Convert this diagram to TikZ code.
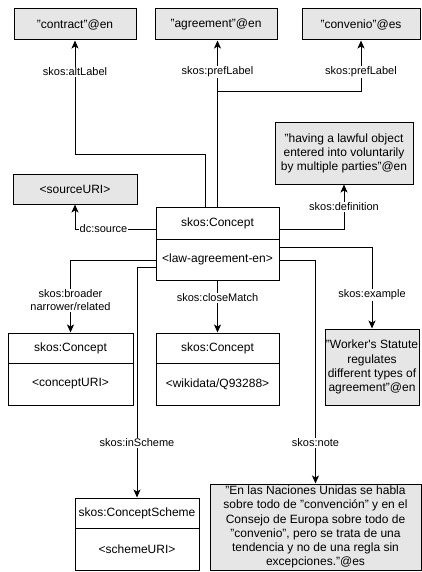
\documentclass[tikz,border=0pt]{standalone}
\usepackage{fontspec}
\setmainfont{Liberation Sans}
\usetikzlibrary{arrows.meta}
\definecolor{boxfill}{HTML}{E6E6E6}
\begin{document}
\begin{tikzpicture}[x=1pt,y=-1pt,
  box/.style={draw=black, line width=1pt, fill=boxfill, inner sep=0pt, align=center, font=\fontsize{12}{14.2}\selectfont},
  cls/.style={draw=black, line width=1pt, fill=white, inner sep=0pt, align=center, font=\fontsize{12}{14}\selectfont},
  lbl/.style={fill=white, inner sep=1pt, align=center, font=\fontsize{11}{13}\selectfont},
  arr/.style={draw=black, line width=1pt, -{Stealth[length=8pt,width=7pt,inset=2pt]}},
]
\useasboundingbox (0,0) rectangle (421,572);
% literal boxes
\node[box, minimum width=122, minimum height=31] (contract) at (75,24.5) {"contract"@en};
\node[box, minimum width=122, minimum height=31] (agree) at (216,24.5) {"agreement"@en};
\node[box, minimum width=118, minimum height=31] (conv) at (361,24.5) {"convenio"@es};
\node[box, minimum width=138, minimum height=61] (def) at (344,153.5) {"having a lawful object\\entered into voluntarily\\by multiple parties"@en};
\node[box, minimum width=124, minimum height=30] (src) at (75,189) {<sourceURI>};
\node[box, minimum width=94, minimum height=76] (ex) at (372,367) {"Worker\textquotesingle s Statute\\regulates\\different types of\\agreement"@en};
\node[box, minimum width=211, minimum height=86] (note) at (315.5,527) {"En las Naciones Unidas se habla\\sobre todo de "convención" y en el\\Consejo de Europa sobre todo de\\"convenio", pero se trata de una\\tendencia y no de una regla sin\\excepciones."@es};
% class boxes
\node[cls, minimum width=123, minimum height=32] (c1) at (217.5,223) {skos:Concept};
\node[cls, minimum width=123, minimum height=41] (c2) at (217.5,259.5) {<law-agreement-en>};
\node[cls, minimum width=125, minimum height=30] (b1) at (70.5,348) {skos:Concept};
\node[cls, minimum width=125, minimum height=42] (b2) at (70.5,384) {<conceptURI>};
\node[cls, minimum width=123, minimum height=30] (m1) at (217.5,348) {skos:Concept};
\node[cls, minimum width=123, minimum height=42] (m2) at (217.5,384) {<wikidata/Q93288>};
\node[cls, minimum width=124, minimum height=30] (s1) at (137,513) {skos:ConceptScheme};
\node[cls, minimum width=124, minimum height=42] (s2) at (137,549) {<schemeURI>};
% helper coordinates
\coordinate (yAlt) at (205,155);
\coordinate (br) at (217.5,92);
\coordinate (y229) at (0,229);
\coordinate (y247) at (0,247);
\coordinate (y260) at (0,260);
\coordinate (y267) at (0,267);
% connectors
\draw[arr] ([xshift=-12.5pt]c1.north) -- (yAlt) -| (contract.south);
\draw[arr] (c1.north) -- (c1.north |- agree.south);
\draw[arr] (br) -| (conv.south);
\draw[arr] (c1.east |- y229) -| (def.south);
\draw[arr] (c1.west |- y229) -| (src.south);
\draw[arr] (c2.west |- y260) -| (b1.north);
\draw[arr] (c2.south) -- (m1.north);
\draw[arr] (c2.west |- y267) -| (s1.north);
\draw[arr] (c2.east |- y260) -| (note.north);
\draw[arr] (c2.east |- y247) -| (ex.north);
% labels
\node[lbl] (lAlt) at (75,72) {skos:altLabel};
\node[lbl] (lPref1) at (217.5,72) {skos:prefLabel};
\node[lbl] (lPref2) at (361,72) {skos:prefLabel};
\node[lbl] (lDef) at (344,207) {skos:definition};
\node[lbl] (lSrc) at (103.5,229) {dc:source};
\node[lbl] (lBr) at (70.5,300.5) {skos:broader\\narrower/related};
\node[lbl] (lCm) at (217.5,298) {skos:closeMatch};
\node[lbl] (lEx) at (372,295) {skos:example};
\node[lbl] (lIn) at (137,443) {skos:inScheme};
\node[lbl] (lNo) at (315.5,443) {skos:note};
\end{tikzpicture}
\end{document}
